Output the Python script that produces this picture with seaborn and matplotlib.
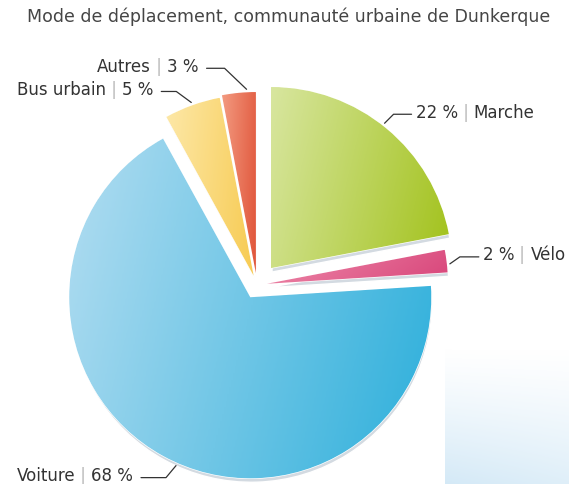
import numpy as np
import matplotlib.pyplot as plt
import seaborn as sns

title = 'Mode de déplacement, communauté urbaine de Dunkerque'
modes = ['Marche', 'Vélo', 'Voiture', 'Bus urbain', 'Autres']
parts = [22, 2, 68, 5, 3]

# styling: slice offsets (px), gradient ends, leader line shapes
offsets = [22, 10, 14, 10, 12]
light = ['#d8e69f', '#ee8aaa', '#b2ddf1', '#fde8a8', '#f39a80']
dark = ['#a2c21c', '#d8457a', '#2cafdb', '#f7cb52', '#e0553a']
nudge = [1.5, -1, 5, 0, -2.5]
leaders = [(9, 9, 18), (10, 7, 19), (10, 12, 25), (15, 11, 15), (22, 21, 18)]

sns.set_theme(style='white')
plt.rcParams['font.family'] = ['DejaVu Sans']

W, H = 569, 485
fig = plt.figure(figsize=(W / 100, H / 100), dpi=100)
ax = fig.add_axes([0, 0, 1, 1])
cx, cy, R = 257, 199, 181

# faint blue panel in the bottom right corner
gy, gx = np.mgrid[0:1:100j, 0:1:100j]
panel = np.zeros((100, 100, 4))
panel[..., :3] = [0.78, 0.89, 0.96]
panel[..., 3] = np.clip(0.75 * gy ** 1.2 * (1 - 0.25 * gx), 0, 1)
ax.imshow(panel, extent=[445, 569, 0, 137], origin='upper', zorder=0)

# grey rim under the slices
ax.pie(parts, explode=offsets, center=(cx + 1, cy - 4), radius=R,
       startangle=90, counterclock=False, colors=['#d3dae1'] * 5,
       wedgeprops=dict(zorder=1))
wedges, _ = ax.pie(parts, explode=offsets, center=(cx, cy), radius=R,
                   startangle=90, counterclock=False, colors=dark,
                   wedgeprops=dict(zorder=2))

for i, w in enumerate(wedges):
    v = w.get_path().vertices
    x0, x1, y0, y1 = v[:, 0].min(), v[:, 0].max(), v[:, 1].min(), v[:, 1].max()
    gy, gx = np.mgrid[0:1:200j, 0:1:200j]
    g = 0.8 * gx + 0.2 * (1 - gy)
    cmap = sns.blend_palette([light[i], dark[i]], as_cmap=True)
    im = ax.imshow(g, extent=[x0, x1, y0, y1], origin='lower', cmap=cmap,
                   vmin=0, vmax=1, zorder=3, interpolation='bilinear')
    im.set_clip_path(w)

txt = dict(fontsize=12, color='#333333')
sep = dict(fontsize=12, color='#b8b8b8')
for i, w in enumerate(wedges):
    th = np.deg2rad((w.theta1 + w.theta2) / 2 + nudge[i])
    side = 1 if np.cos(th) > 0 else -1
    up = 1 if np.sin(th) > 0 else -1
    dx, dy, hl = leaders[i]
    px = w.center[0] + (w.r + 3) * np.cos(th)
    py = w.center[1] + (w.r + 3) * np.sin(th)
    ex, ey = px + side * dx, py + up * dy
    fx = ex + side * hl
    ax.plot([px, ex, fx], [py, ey, ey], color='#333333', lw=0.9, zorder=4)
    ty = ey + 2.5
    if side > 0:
        t1 = ax.text(fx + 4, ty, f'{parts[i]} %', ha='left', va='center', **txt)
        t2 = ax.annotate(' | ', xy=(1, 0), xycoords=t1, ha='left', va='bottom', **sep)
        ax.annotate(modes[i], xy=(1, 0), xycoords=t2, ha='left', va='bottom', **txt)
    else:
        t1 = ax.text(fx - 8, ty, f'{parts[i]} %', ha='right', va='center', **txt)
        t2 = ax.annotate(' | ', xy=(0, 0), xycoords=t1, ha='right', va='bottom', **sep)
        ax.annotate(modes[i], xy=(0, 0), xycoords=t2, ha='right', va='bottom', **txt)

ax.set_xlim(0, W)
ax.set_ylim(0, H)
ax.set_aspect('equal')
ax.axis('off')

fig.text(0.508, 1 - 17 / H, title, ha='center', va='center',
         fontsize=12.5, color='#454545')

fig.savefig('out.png', dpi=100)
